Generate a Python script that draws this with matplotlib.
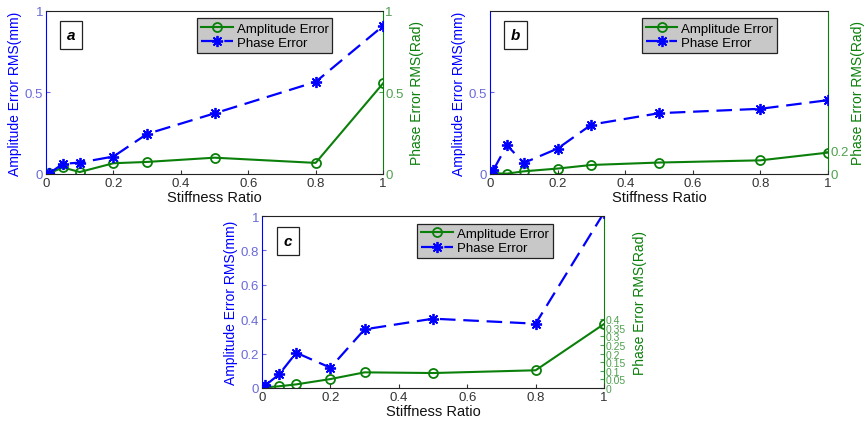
import matplotlib
matplotlib.use("Agg")
import matplotlib.pyplot as plt
from matplotlib.ticker import FixedLocator

plt.rcParams['font.family'] = ['Liberation Sans', 'DejaVu Sans']

# stiffness ratios (shared by all panels)
ratio = [0.01, 0.05, 0.1, 0.2, 0.3, 0.5, 0.8, 1.0]

# panel a
amp_a = [0.005, 0.04, 0.012, 0.066, 0.074, 0.10, 0.068, 0.556]
phase_a = [0.005, 0.062, 0.07, 0.107, 0.246, 0.372, 0.565, 0.908]
# panel b (amplitude on right axis units)
amp_b = [0.006, 0.003, 0.023, 0.047, 0.078, 0.099, 0.118, 0.185]
phase_b = [0.025, 0.176, 0.068, 0.156, 0.303, 0.373, 0.40, 0.453]
# panel c
amp_c = [0.004, 0.01, 0.021, 0.052, 0.091, 0.087, 0.103, 0.372]
phase_c = [0.016, 0.079, 0.205, 0.118, 0.341, 0.403, 0.374, 1.02]

xticks = [0, 0.2, 0.4, 0.6, 0.8, 1]
xticklabels = ['0', '0.2', '0.4', '0.6', '0.8', '1']

BLUE = '#0000ff'
GREEN = '#0a800a'
BLUE_TICK = '#6a6ad8'
GREEN_TICK = '#4fa04f'
ASTERISK = (8, 2, 0)

panels = [
    dict(tag='a', rect=[0.0531, 0.5902, 0.3887, 0.3817], amp=amp_a, phase=phase_a,
         lticks=[0, 0.5, 1], llabels=['0', '0.5', '1'],
         rlim=1.0, rticks=[0, 0.5, 1], rlabels=['0', '0.5', '1'], rsize=9.5, rpad=5),
    dict(tag='b', rect=[0.5652, 0.5902, 0.3898, 0.3817], amp=amp_b, phase=phase_b,
         lticks=[0, 0.5], llabels=['0', '0.5'],
         rlim=1.41, rticks=[0, 0.2], rlabels=['0', '0.2'], rsize=9.5, rpad=2),
    dict(tag='c', rect=[0.3022, 0.0890, 0.3945, 0.4028], amp=amp_c, phase=phase_c,
         lticks=[0, 0.2, 0.4, 0.6, 0.8, 1], llabels=['0', '0.2', '0.4', '0.6', '0.8', '1'],
         rlim=1.0, rticks=[0, 0.05, 0.1, 0.15, 0.2, 0.25, 0.3, 0.35, 0.4],
         rlabels=['0', '0.05', '0.1', '0.15', '0.2', '0.25', '0.3', '0.35', '0.4'],
         rsize=7.5, rpad=5),
]

fig = plt.figure(figsize=(8.67, 4.27), dpi=100)

for p in panels:
    ax1 = fig.add_axes(p['rect'])
    ax2 = ax1.twinx()
    ax1.set_zorder(2)
    ax1.patch.set_visible(False)

    ph, = ax1.plot(ratio, p['phase'], '--', color=BLUE, marker=ASTERISK, markersize=8,
                   markeredgewidth=1.3, linewidth=1.6, dashes=(7, 3.5),
                   label='Phase Error')
    am, = ax2.plot(ratio, p['amp'], '-', color=GREEN, marker='o', markersize=6.5,
                   markerfacecolor='none', markeredgewidth=1.3, linewidth=1.5,
                   label='Amplitude Error')

    ax1.set_xlim(0, 1)
    ax1.set_ylim(0, 1)
    ax2.set_ylim(0, p['rlim'])
    ax1.set_xticks(xticks)
    ax1.set_xticklabels(xticklabels)
    ax1.yaxis.set_major_locator(FixedLocator(p['lticks']))
    ax1.set_yticklabels(p['llabels'])
    ax2.yaxis.set_major_locator(FixedLocator(p['rticks']))
    ax2.set_yticklabels(p['rlabels'])

    ax1.tick_params(axis='x', direction='in', labelsize=9.5, colors='#333333', length=3, pad=2)
    ax1.tick_params(axis='y', direction='in', labelsize=9.5, colors=BLUE_TICK, length=3, pad=2)
    ax2.tick_params(axis='y', direction='in', labelsize=p['rsize'], colors=GREEN_TICK,
                    length=3, pad=1.5)

    for side in ['top', 'bottom']:
        ax1.spines[side].set_color('#222222')
    ax1.spines['left'].set_color(BLUE)
    ax2.spines['left'].set_visible(False)
    ax1.spines['right'].set_visible(False)
    ax2.spines['right'].set_color(GREEN)
    ax2.spines['top'].set_visible(False)
    ax2.spines['bottom'].set_visible(False)

    ax1.set_xlabel('Stiffness Ratio', fontsize=10.5, color='#111111', labelpad=1)
    ax1.set_ylabel('Amplitude Error RMS(mm)', fontsize=10, color=BLUE, labelpad=2)
    ax2.set_ylabel('Phase Error RMS(Rad)', fontsize=10, color=GREEN, labelpad=p['rpad'])

    ax1.text(0.075, 0.855, p['tag'], transform=ax1.transAxes, fontsize=11,
             fontweight='bold', style='italic', ha='center', va='center',
             bbox=dict(boxstyle='square,pad=0.45', facecolor='white',
                       edgecolor='#222222', linewidth=0.9))

    leg = ax1.legend([am, ph], ['Amplitude Error', 'Phase Error'],
                     loc='upper right', bbox_to_anchor=(0.85, 0.955), fontsize=9.5,
                     fancybox=False, framealpha=1, facecolor='#c8c8c8',
                     edgecolor='#222222', borderpad=0.3, labelspacing=0.15,
                     handlelength=2.4, handletextpad=0.3, borderaxespad=0)
    leg.get_frame().set_linewidth(0.9)

fig.savefig('out.png', dpi=100)
